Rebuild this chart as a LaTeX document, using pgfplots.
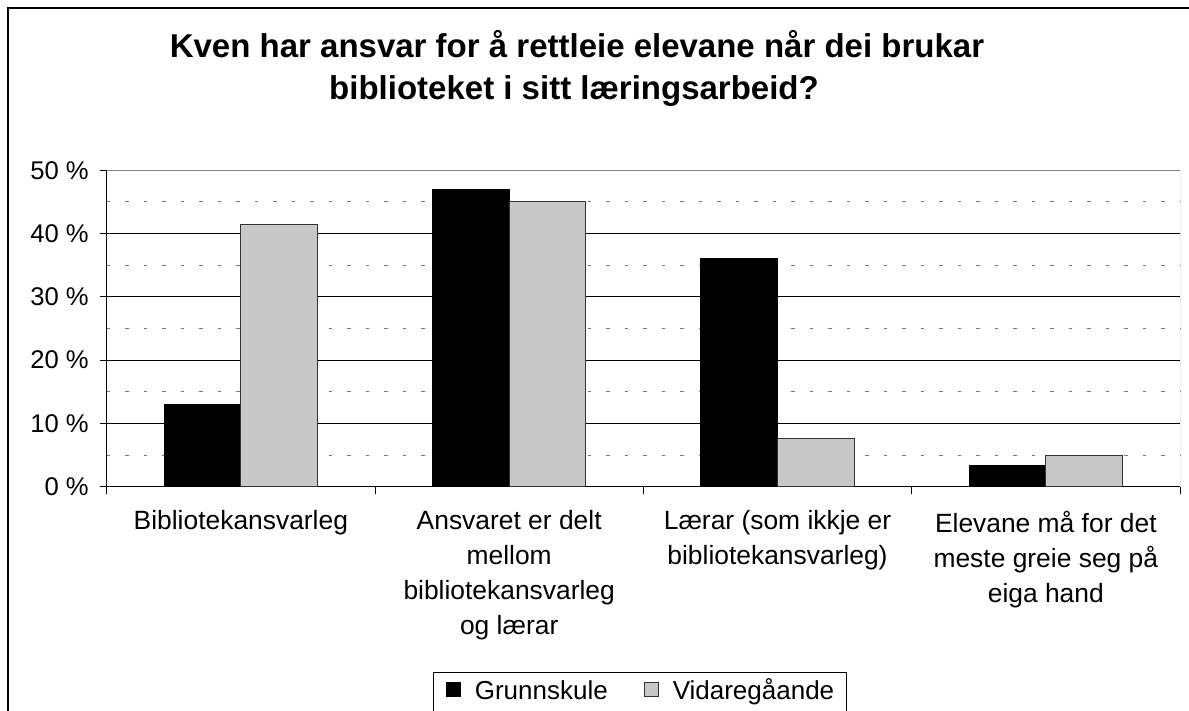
\documentclass[border=0pt]{standalone}
\usepackage{pgfplots}
\pgfplotsset{compat=1.18}
\usepackage{fontspec}
\setmainfont{Liberation Sans}
\definecolor{barlight}{RGB}{200,200,200}
\definecolor{dashgray}{RGB}{120,120,120}
\begin{document}
\begin{tikzpicture}[x=0.5pt,y=0.5pt]
\path[use as bounding box] (0,0) rectangle (1189,711);
\begin{scope}
\clip (0,0) rectangle (1189,711);
\draw[line width=0.6pt] (8,703) rectangle (1200,-20);
\end{scope}
\node[anchor=base, font=\fontsize{16.5}{19}\selectfont\bfseries] at (577,653) {Kven har ansvar for å rettleie elevane når dei brukar};
\node[anchor=base, font=\fontsize{16.5}{19}\selectfont\bfseries] at (574,611) {biblioteket i sitt læringsarbeid?};
\begin{axis}[
  at={(53.35pt,112.15pt)}, anchor=south west,
  scale only axis, width=536.65pt, height=158.2pt,
  ybar=0pt, bar width=38.3pt,
  xmin=-0.5, xmax=3.5, ymin=0, ymax=50,
  axis lines*=left, axis line style={-, black, line width=0.5pt},
  xtick={-0.5,0.5,1.5,2.5,3.5}, xticklabels={},
  extra x ticks={0,1,2,3},
  extra x tick labels={Bibliotekansvarleg, {Ansvaret er delt\\mellom\\bibliotekansvarleg\\og lærar}, {Lærar (som ikkje er\\bibliotekansvarleg)}, {Elevane må for det\\meste greie seg på\\eiga hand}},
  extra x tick style={major tick length=0pt, tick label style={align=center, anchor=north, yshift=-8.5pt, font=\fontsize{13.2}{17.5}\selectfont}},
  ytick={0,10,...,50}, yticklabels={0 \%,10 \%,20 \%,30 \%,40 \%,50 \%},
  minor ytick={5,15,25,35,45},
  ymajorgrids, yminorgrids,
  major grid style={black, line width=0.5pt},
  minor grid style={dashgray, line width=0.5pt, dash pattern=on 1.75pt off 7.5pt},
  tick align=outside, major tick length=3.5pt, minor tick length=0pt,
  tick style={black, line width=0.5pt},
  yticklabel style={font=\fontsize{12.8}{15}\selectfont, xshift=-2pt},
  legend style={at={(0.4969,-0.5857)}, anchor=north, legend columns=2, draw=black, line width=0.5pt,
    font=\fontsize{13}{15}\selectfont, inner ysep=3pt, inner xsep=6pt,
    nodes={inner xsep=0pt, inner ysep=1pt, text height=9.5pt, text depth=3pt},
    /tikz/every odd column/.append style={column sep=7pt},
    /tikz/every even column/.append style={column sep=18pt}},
  legend image code/.code={\draw[#1, line width=0.5pt] (0pt,-1.8pt) rectangle (7pt,5.5pt);},
]
\addplot[fill=black, draw=black, line width=0.5pt] coordinates {(0,13.0) (1,46.9) (2,36.1) (3,3.3)};
\addplot[fill=barlight, draw=black!80, line width=0.5pt] coordinates {(0,41.5) (1,45.0) (2,7.6) (3,4.9)};
\legend{Grunnskule, Vidaregåande}
\draw[gray, line width=0.5pt] (rel axis cs:0,1) -- (rel axis cs:1,1) -- (rel axis cs:1,0);
\end{axis}
\end{tikzpicture}
\end{document}
